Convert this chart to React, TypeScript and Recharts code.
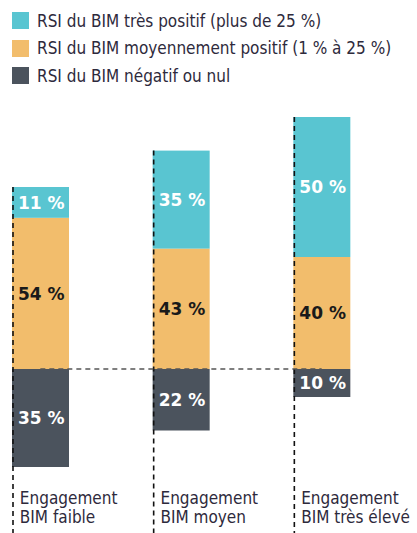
import React from 'react'
import { BarChart, Bar, XAxis, YAxis, ReferenceLine, LabelList } from 'recharts'

const CYAN = '#59c5d1'
const ORANGE = '#f2bd6c'
const DARK = '#4b535d'
const TEXT = '#2e2a3c'
const COND = "'DejaVu Sans Condensed', 'DejaVu Sans', sans-serif"

const W = 417
const H = 533

// categories (two text lines each) and series values, in %
const categories = ['faible', 'moyen', 'très élevé']
const categoryLines = [
  ['Engagement', 'BIM faible'],
  ['Engagement', 'BIM moyen'],
  ['Engagement', 'BIM très élevé'],
]
const tresPositif = [11, 35, 50]
const moyenPositif = [54, 43, 40]
const negatifNul = [35, 22, 10]

const legendItems = [
  { color: CYAN, label: 'RSI du BIM très positif (plus de 25 %)' },
  { color: ORANGE, label: 'RSI du BIM moyennement positif (1 % à 25 %)' },
  { color: DARK, label: 'RSI du BIM négatif ou nul' },
]

// negative share is drawn below the zero line
const data = categories.map((c, i) => ({
  name: c,
  neg: -negatifNul[i],
  moy: moyenPositif[i],
  tres: tresPositif[i],
}))

function makeLabel(color: string) {
  return (props: any) => {
    const { x, y, height, value } = props
    return (
      <text x={x + 6} y={y + height / 2} dy="0.36em" fill={color}
        fontFamily="'DejaVu Sans', sans-serif" fontWeight="bold" fontSize={17}>
        {`${Math.abs(value)} %`}
      </text>
    )
  }
}

// top segment also draws the dashed guide at the bar's left edge
function TopShape(props: any) {
  const { x, y, width, height, fill } = props
  return (
    <g>
      <rect x={x} y={y} width={width} height={height} fill={fill} />
      <line x1={x + 1} y1={y} x2={x + 1} y2={H} stroke="#111" strokeWidth={1.6} strokeDasharray="5 4" />
    </g>
  )
}

function CategoryTick(props: any) {
  const { x, y, index } = props
  const left = x - 28.5 + 8
  const lines = categoryLines[index] ?? []
  return (
    <g>
      {lines.map((l, i) => (
        <text key={i} x={left} y={y + 15 + i * 19} fill={TEXT} fontFamily={COND} fontSize={17}>{l}</text>
      ))}
    </g>
  )
}

export default function App() {
  return (
    <div style={{ position: 'absolute', left: 0, top: 0, width: W, height: H, background: '#fff' }}>
      <div style={{ position: 'absolute', left: 0, top: 0 }}>
        {legendItems.map((it, i) => (
          <div key={i} style={{ position: 'absolute', left: 12, top: 12 + i * 27.5, height: 17, display: 'flex', alignItems: 'center', whiteSpace: 'nowrap' }}>
            <span style={{ display: 'inline-block', width: 17, height: 17, background: it.color }} />
            <span style={{ marginLeft: 8, fontFamily: COND, fontSize: 17, color: TEXT }}>{it.label}</span>
          </div>
        ))}
      </div>
      <BarChart width={W} height={H} data={data} stackOffset="sign" barSize={57}
        margin={{ top: 89, right: 25, bottom: 0, left: -30 }}>
        <XAxis dataKey="name" axisLine={false} tickLine={false} height={52} tick={<CategoryTick />} interval={0} />
        <YAxis hide domain={[-40, 100]} />
        <ReferenceLine segment={[{ x: categories[0], y: 0 }, { x: categories[2], y: 0 }]}
          stroke="#555" strokeWidth={1.5} strokeDasharray="5 4" />
        <Bar dataKey="neg" stackId="a" fill={DARK} isAnimationActive={false}>
          <LabelList dataKey="neg" content={makeLabel('#fff')} />
        </Bar>
        <Bar dataKey="moy" stackId="a" fill={ORANGE} isAnimationActive={false}>
          <LabelList dataKey="moy" content={makeLabel('#1a1a1a')} />
        </Bar>
        <Bar dataKey="tres" stackId="a" fill={CYAN} isAnimationActive={false} shape={<TopShape />}>
          <LabelList dataKey="tres" content={makeLabel('#fff')} />
        </Bar>
      </BarChart>
    </div>
  )
}
